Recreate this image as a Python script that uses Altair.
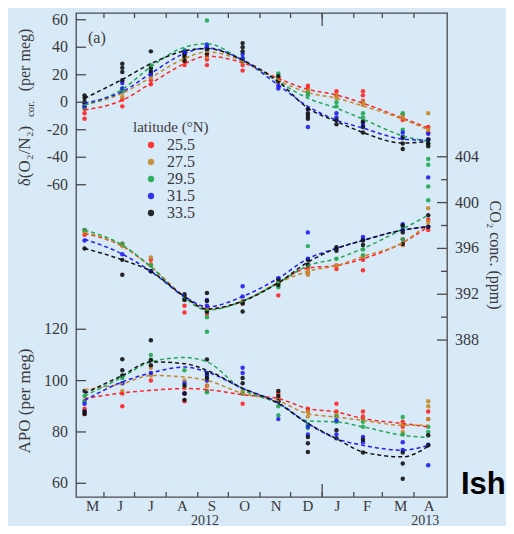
import altair as alt
import pandas as pd

# ---------------- data ----------------
lats = ["25.5", "27.5", "29.5", "31.5", "33.5"]
lat_colors = ["#ff2222", "#c48a2a", "#1fa850", "#1f1ff0", "#111111"]

# sampling days (days after 1 May 2012) of the twelve cruises
days = [12, 49, 77, 110, 132, 167, 202, 231, 259, 285, 324, 349]

month_letters = ["M", "J", "J", "A", "S", "O", "N", "D", "J", "F", "M", "A"]
month_pos = [20, 47, 77, 108, 137, 169, 200, 231, 260, 289, 322, 350]
month_starts = [31, 61, 92, 123, 153, 184, 214, 245, 276, 304, 335]
year_start = [245]
year_labels = ["2012", "2013"]
year_pos = [130, 346]

o2n2_ticks = [-60, -40, -20, 0, 20, 40, 60]
co2_ticks = [388, 392, 396, 400, 404]
co2_minor = [390, 394, 398, 402]
apo_ticks = [60, 80, 100, 120]

# --- delta(O2/N2) fitted curves (per meg)
o2n2_fit = {
    "25.5": [-5.6, 1.5, 13.7, 28, 33.5, 28.7, 17.3, 9.4, 5.3, -0.7, -11.6, -18.8],
    "27.5": [-2, 6.5, 18, 31.8, 36.6, 30, 16, 7, 2.9, -2.7, -12.3, -20],
    "29.5": [-2, 9.4, 25.8, 40, 42.5, 30.6, 15, 2.9, -4.3, -12.3, -24.4, -28.5],
    "31.5": [-0.7, 7.7, 21, 35.4, 39.5, 30.6, 12.5, -3, -13, -18.8, -26.8, -27.7],
    "33.5": [2.9, 16.6, 28, 37.3, 39, 30.6, 15, -4.3, -14, -22, -29.7, -28.5],
}
# --- delta(O2/N2) observations
o2n2_obs = {
    "25.5": [[-12, -8, -5], [-3, 2], [13, 16], [27, 30], [27, 31], [23, 27],
             [15, 18], [10, 12], [5, 8], [1, 5, 8], [-13, -9], [-22, -18]],
    "27.5": [[-3, -1], [4, 7], [18, 20], [31, 33], [33, 35], [29, 31],
             [16, 17], [7, 9], [3, 5], [-2, 0], [-11, -9], [-8, -20]],
    "29.5": [[-4, -1], [8, 10], [24, 27], [36, 38], [59.5, 41], [30, 32],
             [18, 21], [5, 7], [-3, 0], [-8, -11], [-8, -20], [-28, -30]],
    "31.5": [[-3, 0], [10, 14], [20, 22], [35, 37], [40, 42], [32, 35],
             [10, 12], [-5, -18], [-8, -11], [-17, -15], [-22, -25], [-23, -27]],
    "33.5": [[0, 3, 5], [16, 22, 25, 28], [22, 25, 37], [30, 33, 35], [35, 38], [37, 40, 43],
             [15, 19], [-5, -8, -10, -12], [-13, -16], [-14, -18, -22], [-26, -30, -34], [-27, -30, -32]],
}

# --- CO2 fitted curves (ppm)
co2_fit = {
    "25.5": [397.3, 396.2, 394.4, 391.8, 390.7, 391.4, 393.0, 394.3, 394.5, 395.1, 396.5, 397.9],
    "27.5": [397.4, 396.2, 394.4, 391.8, 390.7, 391.4, 393.0, 394.0, 394.5, 395.3, 396.5, 398.2],
    "29.5": [397.6, 396.3, 394.4, 391.7, 390.6, 391.4, 393.0, 394.5, 395.1, 396.0, 397.7, 398.9],
    "31.5": [396.8, 395.5, 394.0, 391.8, 390.9, 391.8, 393.4, 395.1, 396.0, 396.7, 397.6, 397.9],
    "33.5": [396.0, 395.0, 394.0, 391.8, 390.7, 391.4, 393.0, 394.8, 396.0, 396.7, 397.6, 397.9],
}
co2_obs = {
    "25.5": [[397.2, 397.6], [396.4], [395.0, 394.6], [390.4, 391.0], [390.3, 390.8], [391.2],
             [391.9, 393.0], [394.3, 393.8], [394.5, 394.2], [394.1, 395.0], [396.3, 396.8], [398.5, 397.6]],
    "27.5": [[397.4], [396.2], [395.2, 394.6], [391.6], [390.8], [391.4],
             [393.0], [393.7, 394.0], [394.5], [395.3], [396.3], [399.5, 398.3]],
    "29.5": [[397.6], [396.4], [394.5], [391.6], [390.0, 390.5], [391.3],
             [393.0, 392.6], [396.2, 394.5], [395.1], [395.9, 395.4], [397.9, 396.8], [403.8, 403.3, 401.4, 400.2]],
    "31.5": [[396.7], [395.5], [394.0], [391.8], [391.0, 391.5], [392.7, 391.8],
             [393.4], [397.4, 395.1], [396.0], [396.8, 397.0], [397.6, 398.1], [402.2, 397.9]],
    "33.5": [[396.0], [395.0, 393.7], [394.0], [391.5, 392.0], [390.5, 391.4, 392.1], [390.5, 391.2],
             [392.8, 393.3], [394.6, 395.0], [396.1, 395.8], [396.7, 396.3], [397.4, 396.4, 398.0], [398.9, 397.9]],
}

# --- APO fitted curves (per meg)
apo_fit = {
    "25.5": [93, 95.2, 96.2, 96.9, 96.5, 94.5, 93, 89.1, 87.8, 85.2, 83.3, 82.0],
    "27.5": [96.5, 98.8, 102, 101.4, 100.1, 95, 92.1, 87.1, 85.8, 84.5, 82.6, 82.6],
    "29.5": [94, 101.4, 107.3, 109, 107.3, 96.5, 91.1, 84.3, 83.9, 82.0, 78.7, 77.8],
    "31.5": [92.3, 99.5, 103, 105.3, 103.4, 97, 91.3, 83.3, 77.4, 74.8, 72.9, 74.8],
    "33.5": [95, 102, 107.3, 106.6, 104, 97, 91.1, 83.3, 77.4, 72.2, 70.3, 74.4],
}
apo_obs = {
    "25.5": [[87, 89], [90, 95], [100], [92, 95], [98, 96], [91, 95],
             [95, 93], [89, 88], [91, 88], [88, 86], [82, 84], [88, 85]],
    "27.5": [[92], [96, 99], [105, 102], [97, 100], [98, 100], [96],
             [93], [86, 88], [87, 86], [85], [80, 83], [92, 90, 85]],
    "29.5": [[92, 94], [101], [110, 108], [104], [119, 95.5], [95],
             [86.5, 90], [81.5, 83], [84, 86], [82, 84], [85.8, 79], [80, 82]],
    "31.5": [[88, 91], [99], [103], [95, 99], [100, 102], [103, 105],
             [85, 92], [79, 82], [84.5, 79], [78, 76], [73, 76], [67, 75]],
    "33.5": [[96, 88, 87], [108.3, 104, 102], [115.7, 108, 106], [92.5, 95, 98], [108.2, 101, 103], [101, 99],
             [96, 94, 92], [75.6, 72.2, 78], [80.7, 77.5], [77, 72], [67.7, 61.8, 72], [78.7, 74.8]],
}

# ---------------- layout / style ----------------
W, H = 371, 484
SERIF = "Liberation Serif"
TXT = "#3a3a3a"
FRAME = "#4a4a4a"
BG = "#d8e9f8"

xscale = alt.Scale(domain=[3.6, 367.4], nice=False, zero=False)
d_scale = alt.Scale(domain=[-287.1, 64.9], nice=False, zero=False)
c_scale = alt.Scale(domain=[374.3, 416.55], nice=False, zero=False)
a_scale = alt.Scale(domain=[54.66, 243.2], nice=False, zero=False)
cscale = alt.Scale(domain=lats, range=lat_colors)


def fit_frame(fit):
    rows = []
    for lat in lats:
        for d, v in zip(days, fit[lat]):
            rows.append({"day": d, "val": v, "lat": lat})
    return pd.DataFrame(rows)


def obs_frame(obs):
    rows = []
    for lat in lats:
        for d, vs in zip(days, obs[lat]):
            for v in vs:
                rows.append({"day": d, "val": v, "lat": lat})
    return pd.DataFrame(rows)


def panel(fit, obs, yscale, legend=None):
    pts = alt.Chart(obs_frame(obs)).mark_circle(size=20, opacity=0.9).encode(
        x=alt.X("day:Q", scale=xscale, axis=None),
        y=alt.Y("val:Q", scale=yscale, axis=None),
        color=alt.Color("lat:N", scale=cscale, legend=legend),
    )
    lines = alt.Chart(fit_frame(fit)).mark_line(
        strokeDash=[4, 3], strokeWidth=1.5, interpolate="monotone"
    ).encode(
        x=alt.X("day:Q", scale=xscale, axis=None),
        y=alt.Y("val:Q", scale=yscale, axis=None),
        color=alt.Color("lat:N", scale=cscale, legend=None),
    )
    return pts, lines


def yticks(values, yscale, x0, x1):
    return alt.Chart(pd.DataFrame({"val": values})).mark_rule(
        color=FRAME, strokeWidth=1.3
    ).encode(
        y=alt.Y("val:Q", scale=yscale, axis=None),
        x=alt.value(x0), x2=alt.value(x1),
    )


def ylabels(values, yscale, x, align):
    df = pd.DataFrame({"val": values, "lab": [str(v) for v in values]})
    return alt.Chart(df).mark_text(
        font=SERIF, fontSize=16, color=TXT, align=align, baseline="middle"
    ).encode(
        y=alt.Y("val:Q", scale=yscale, axis=None),
        x=alt.value(x), text="lab:N",
    )


def xticks(values, y0, y1):
    return alt.Chart(pd.DataFrame({"day": values})).mark_rule(
        color=FRAME, strokeWidth=1.3
    ).encode(
        x=alt.X("day:Q", scale=xscale, axis=None),
        y=alt.value(y0), y2=alt.value(y1),
    )


def label(text, x, y, size=16, angle=0, align="center", font=SERIF, weight="normal", color=TXT):
    return alt.Chart(pd.DataFrame({"t": [text]})).mark_text(
        font=font, fontSize=size, fontWeight=weight, color=color,
        align=align, baseline="middle", angle=angle,
    ).encode(x=alt.value(x), y=alt.value(y), text="t:N")


legend = alt.Legend(
    title="latitude (°N)", orient="none", legendX=57, legendY=107, padding=0,
    titleFont=SERIF, titleFontSize=15, titleFontWeight="normal", titleColor=TXT,
    titlePadding=2, labelFont=SERIF, labelFontSize=16, labelColor=TXT,
    symbolType="circle", symbolSize=40, symbolOffset=10, labelOffset=8,
    rowPadding=1, symbolStrokeWidth=0,
)

d_pts, d_lines = panel(o2n2_fit, o2n2_obs, d_scale, legend)
c_pts, c_lines = panel(co2_fit, co2_obs, c_scale)
a_pts, a_lines = panel(apo_fit, apo_obs, a_scale)

month_text = alt.Chart(pd.DataFrame({"pos": month_pos, "lab": month_letters})).mark_text(
    font=SERIF, fontSize=15, color=TXT, baseline="middle"
).encode(x=alt.X("pos:Q", scale=xscale, axis=None), y=alt.value(H + 9), text="lab:N")

year_text = alt.Chart(pd.DataFrame({"pos": year_pos, "lab": year_labels})).mark_text(
    font=SERIF, fontSize=14, color=TXT, baseline="middle"
).encode(x=alt.X("pos:Q", scale=xscale, axis=None), y=alt.value(H + 23.5), text="lab:N")

d_layer = alt.layer(
    d_pts, d_lines,
    yticks(o2n2_ticks, d_scale, 0, 10),
    ylabels(o2n2_ticks, d_scale, -8, "right"),
    xticks(month_starts, 0, 5), xticks(month_starts, H - 5, H),
    xticks(year_start, 0, 13), xticks(year_start, H - 13, H),
    month_text, year_text,
    label("(a)", 12, 25, align="left"),
    label("δ(O₂/N₂)", -51, 143, size=17, angle=270),
    label("cor.", -45, 96, size=11, angle=270),
    label("(per meg)", -51, 47, size=16, angle=270),
    label("APO  (per meg)", -51, 388, size=17, angle=270),
    label("CO₂ conc. (ppm)", 419, 242, size=16, angle=90),
    label("Ish", 385, 472, size=31, align="left", font="Liberation Sans",
          weight="bold", color="#000000"),
)
c_layer = alt.layer(
    c_pts, c_lines,
    yticks(co2_ticks, c_scale, W - 10, W),
    yticks(co2_minor, c_scale, W - 6, W),
    ylabels(co2_ticks, c_scale, W + 8, "left"),
)
a_layer = alt.layer(
    a_pts, a_lines,
    yticks(apo_ticks, a_scale, 0, 10),
    ylabels(apo_ticks, a_scale, -8, "right"),
)

chart = alt.layer(d_layer, c_layer, a_layer).resolve_scale(
    y="independent"
).properties(
    width=W, height=H,
    autosize=alt.AutoSizeParams(type="none"),
    padding={"left": 68, "top": 5, "right": 59, "bottom": 29},
).configure(
    background=BG,
).configure_view(
    stroke=FRAME, strokeWidth=1.3,
)

chart.save("out.html", embed_options={"renderer": "svg", "actions": False})
